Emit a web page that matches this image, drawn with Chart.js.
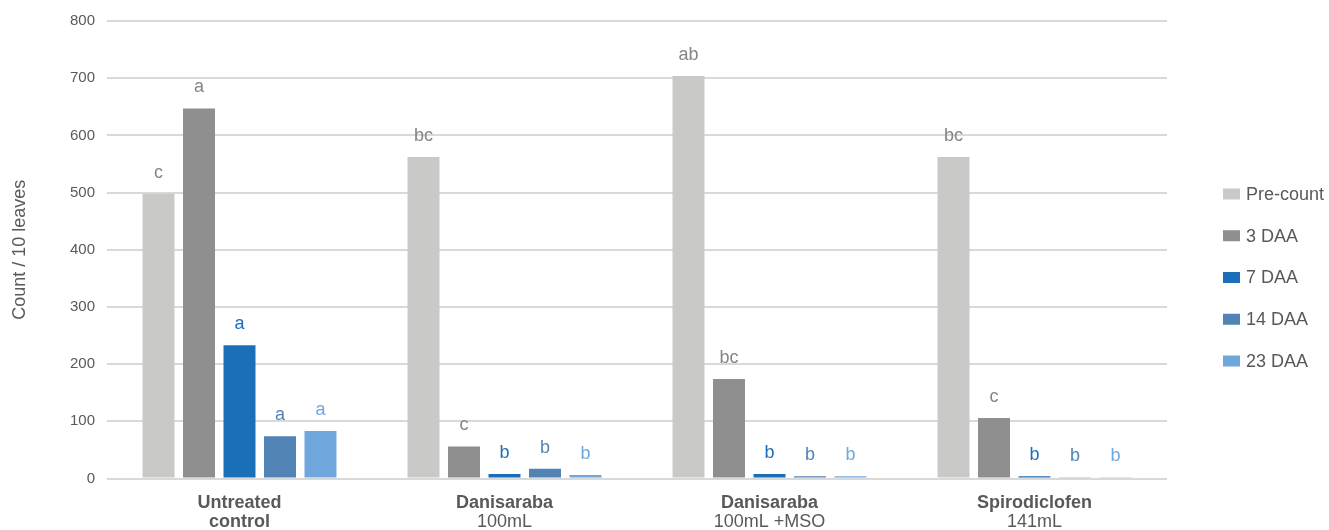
<!DOCTYPE html>
<html>
<head>
<meta charset="utf-8">
<script src="https://cdn.jsdelivr.net/npm/chart.js@4/dist/chart.umd.min.js"></script>
<style>
  html, body { margin: 0; padding: 0; background: #ffffff; }
  #wrap { width: 1329px; height: 530px; }
</style>
</head>
<body>
<div id="wrap"><canvas id="c" width="1329" height="530"></canvas></div>
<script>
// ---- data ----
const categoryTitles = ["Untreated", "Danisaraba", "Danisaraba", "Spirodiclofen"];
const categorySubtitles = ["control", "100mL", "100mL +MSO", "141mL"];
const seriesNames = ["Pre-count", "3 DAA", "7 DAA", "14 DAA", "23 DAA"];
const preCount = [498, 562, 704, 562];
const daa3 = [647, 56, 174, 106];
const daa7 = [233, 8, 8, 4];
const daa14 = [74, 17, 4, 2];
const daa23 = [83, 6, 4, 2];
const letters3 = ["a", "c", "bc", "c"];
const lettersPre = ["c", "bc", "ab", "bc"];
const letters7 = ["a", "b", "b", "b"];
const letters14 = ["a", "b", "b", "b"];
const letters23 = ["a", "b", "b", "b"];
const yTicks = [0, 100, 200, 300, 400, 500, 600, 700, 800];

// ---- style ----
const FONT = '"Liberation Sans", Arial, Helvetica, sans-serif';
const TEXT = '#595959';
const barColors = ['#c9c9c8', '#8f8f8f', '#1b6fb8', '#5283b5', '#70a8dd'];
const letterColors = ['#858585', '#858585', '#1b6fb8', '#5283b5', '#70a8dd'];
const seriesValues = [preCount, daa3, daa7, daa14, daa23];
const seriesLetters = [lettersPre, letters3, letters7, letters14, letters23];

const letterPlugin = {
  id: 'letters',
  afterDatasetsDraw(chart) {
    const ctx = chart.ctx;
    ctx.save();
    ctx.font = '18px ' + FONT;
    ctx.textAlign = 'center';
    ctx.textBaseline = 'alphabetic';
    chart.data.datasets.forEach((ds, i) => {
      const meta = chart.getDatasetMeta(i);
      ctx.fillStyle = letterColors[i];
      meta.data.forEach((el, j) => {
        ctx.fillText(seriesLetters[i][j], el.x, el.y - 16);
      });
    });
    ctx.restore();
  }
};

const catLabelPlugin = {
  id: 'catLabels',
  afterDraw(chart) {
    const ctx = chart.ctx;
    const xs = chart.scales.x;
    ctx.save();
    ctx.textAlign = 'center';
    ctx.textBaseline = 'alphabetic';
    ctx.fillStyle = TEXT;
    categoryTitles.forEach((t, j) => {
      const x = xs.getPixelForValue(j);
      ctx.font = 'bold 18px ' + FONT;
      ctx.fillText(t, x, 508);
      ctx.font = (j === 0 ? 'bold ' : '') + '18px ' + FONT;
      ctx.fillText(categorySubtitles[j], x, 527);
    });
    ctx.restore();
  }
};

const legendPlugin = {
  id: 'customLegend',
  afterDraw(chart) {
    const ctx = chart.ctx;
    ctx.save();
    ctx.font = '18px ' + FONT;
    ctx.textAlign = 'left';
    ctx.textBaseline = 'middle';
    const boxX = chart.chartArea.right + 56;
    chart.data.datasets.forEach((ds, i) => {
      const cy = 194 + i * 41.75;
      ctx.fillStyle = ds.backgroundColor;
      ctx.fillRect(boxX, cy - 5.5, 17, 11);
      ctx.fillStyle = TEXT;
      ctx.fillText(ds.label, boxX + 23, cy + 1);
    });
    ctx.restore();
  }
};

const chart = new Chart(document.getElementById('c'), {
  type: 'bar',
  data: {
    labels: categoryTitles.map((t, j) => t + ' ' + categorySubtitles[j]),
    datasets: seriesNames.map((n, i) => ({
      label: n,
      data: seriesValues[i],
      backgroundColor: barColors[i],
      borderWidth: 0,
      categoryPercentage: 0.764,
      barPercentage: 0.79
    }))
  },
  options: {
    responsive: false,
    animation: false,
    layout: { padding: { left: 0, right: 162, top: 19, bottom: 51.5 } },
    plugins: { legend: { display: false }, tooltip: { enabled: false } },
    scales: {
      x: { display: false },
      y: {
        min: 0, max: 800,
        afterBuildTicks(scale) { scale.ticks = yTicks.map(v => ({ value: v })); },
        afterFit(scale) { scale.width = 107; },
        border: { display: false },
        grid: { color: '#d9d9d9', lineWidth: 2, drawTicks: false },
        ticks: { padding: 12, color: TEXT, font: { family: FONT, size: 15 } },
        title: {
          display: true, text: 'Count / 10 leaves', color: TEXT,
          font: { family: FONT, size: 18 }, padding: { top: 9, bottom: 0 }
        }
      }
    }
  },
  plugins: [letterPlugin, catLabelPlugin, legendPlugin]
});
</script>
</body>
</html>
